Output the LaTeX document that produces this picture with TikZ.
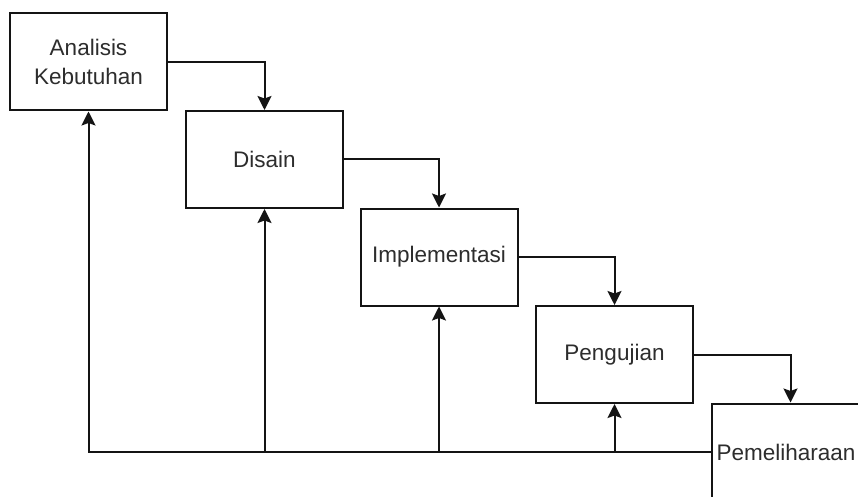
\documentclass[tikz,border=0pt]{standalone}
\usepackage{fontspec}
\setmainfont{Liberation Sans}
\usetikzlibrary{arrows.meta}
\definecolor{txtc}{RGB}{45,45,45}
\definecolor{linec}{RGB}{20,20,20}
\begin{document}
\begin{tikzpicture}[x=1pt,y=-1pt,
  stagebox/.style={draw=linec, line width=2pt, minimum width=157pt, minimum height=97pt,
    inner sep=0pt, align=center, text=txtc, font=\fontsize{22.5}{29}\selectfont, fill=white},
  arr/.style={draw=linec, line width=2pt, -{Stealth[length=14pt,width=14pt,inset=2.5pt]}}]
\useasboundingbox (0,0) rectangle (858,497);
\clip (0,0) rectangle (858,497);
\fill[white] (0,0) rectangle (858,497);
\node[stagebox] (a) at (88.5,62) {Analisis\\Kebutuhan};
\node[stagebox] (b) at (264.5,159.5) {Disain};
\node[stagebox] (c) at (439,257) {Implementasi};
\node[stagebox] (d) at (614.5,354.5) {Pengujian};
\node[stagebox] (e) at (790.5,452) {Pemeliharaan\hspace*{9pt}};
\draw[arr] (a.east) -| (b.north);
\draw[arr] (b.east) -| (c.north);
\draw[arr] (c.east) -| (d.north);
\draw[arr] (d.east) -| (e.north);
\coordinate (jb) at (b.south |- e.west);
\coordinate (jc) at (c.south |- e.west);
\coordinate (jd) at (d.south |- e.west);
\draw[arr] (e.west) -| (a.south);
\draw[arr] (jb) -- (b.south);
\draw[arr] (jc) -- (c.south);
\draw[arr] (jd) -- (d.south);
\end{tikzpicture}
\end{document}
